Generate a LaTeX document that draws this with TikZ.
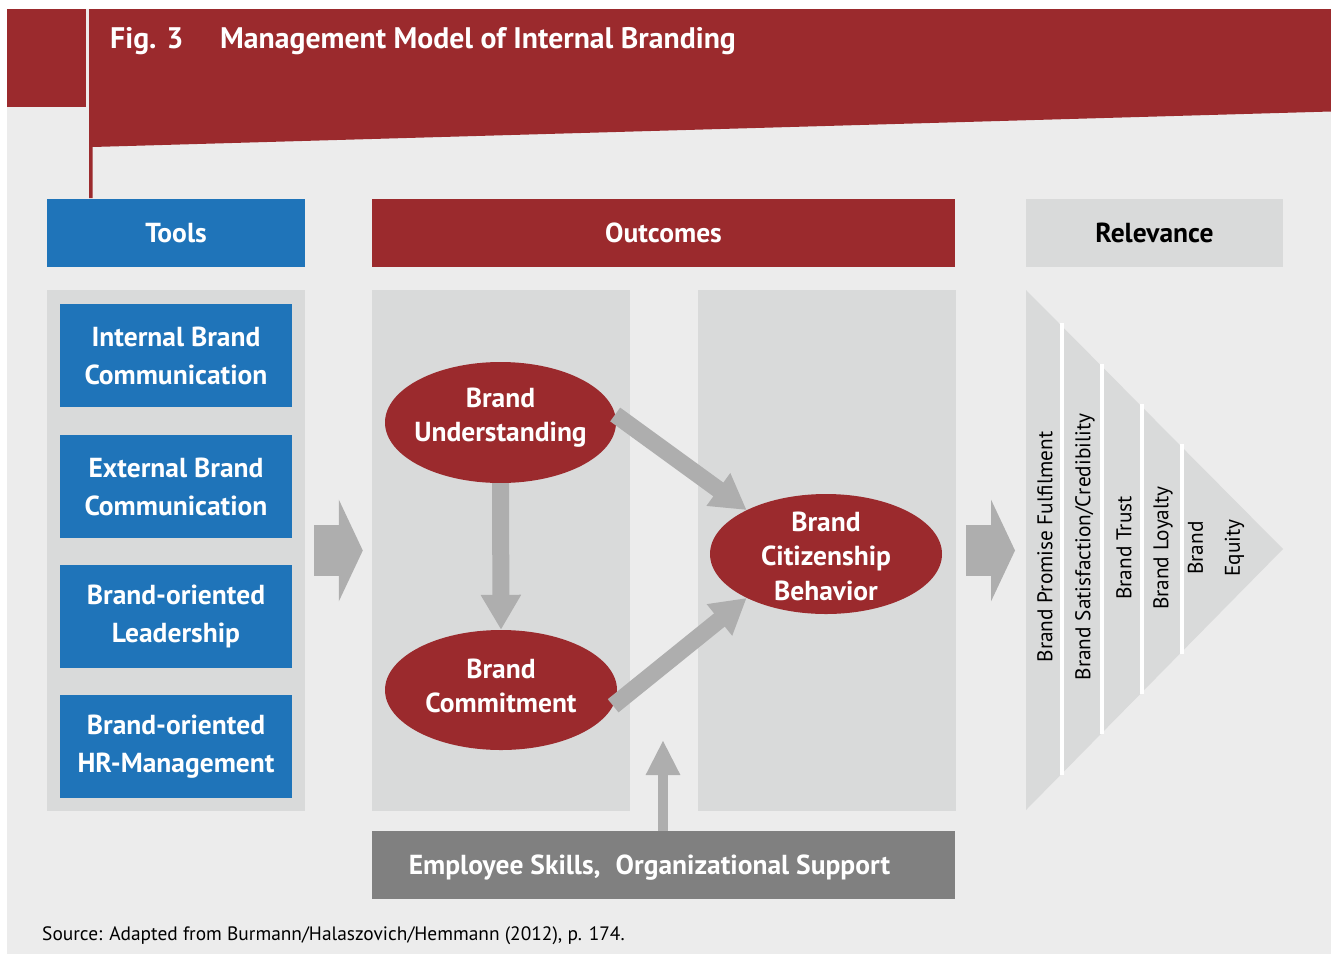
\documentclass[tikz,border=0pt]{standalone}
\usepackage{fontspec}
\setmainfont{PT Sans}
\usetikzlibrary{arrows.meta,shapes.geometric}
\definecolor{brandred}{HTML}{9B2A2D}
\definecolor{toolblue}{HTML}{1F74B9}
\definecolor{panelgray}{HTML}{D9DADA}
\definecolor{bggray}{HTML}{ECECEC}
\definecolor{arrowgray}{HTML}{AEAEAE}
\definecolor{supportgray}{HTML}{808080}

\tikzset{
  boxtext/.style={font=\bfseries\fontsize{27.5}{38}\selectfont, align=center, inner sep=0pt},
  header/.style={boxtext, text depth=0pt, minimum width=#1, minimum height=68pt},
  toolbox/.style={boxtext, fill=toolblue, text=white, minimum width=232pt, minimum height=103pt},
  panel/.style={fill=panelgray, inner sep=0pt, minimum width=258pt, minimum height=521pt},
  outcome/.style={ellipse, fill=brandred, inner sep=0pt},
  outcometext/.style={text=white, inner sep=0pt, font=\bfseries\fontsize{27.5}{34.5}\selectfont, align=center},
  flowarrow/.style={draw=arrowgray, line width=17pt, -{Triangle[width=38pt,length=35pt]}},
  bigarrow/.style={draw=arrowgray, line width=51pt, -{Triangle[width=101pt,length=24pt]}},
  relevtext/.style={rotate=90, font=\fontsize{21.3}{37}\selectfont, align=center, inner sep=0pt},
}

\begin{document}
\begin{tikzpicture}[x=1pt, y=-1pt]
  \useasboundingbox (0,0) rectangle (1331,954);
  \fill[white] (0,0) rectangle (1331,954);
  \fill[bggray] (7,9) rectangle (1331,954);

  % title band
  \fill[brandred] (7,9) rectangle (86,107);
  \fill[brandred] (89,9) -- (1331,9) -- (1331,111.5) -- (92.5,147) -- (92.5,198) -- (89,198) -- cycle;
  \node[anchor=base west, text=white, font=\bfseries\fontsize{29.7}{34}\selectfont, inner sep=0pt]
    (fig) at (110,48) {Fig. 3};
  \node[anchor=base west, text=white, font=\bfseries\fontsize{29.7}{34}\selectfont, inner sep=0pt]
    (title) at (220,48) {Management Model of Internal Branding};

  % column headers
  \node[header=258pt, fill=toolblue, text=white] (tools) at (176,233) {Tools};
  \node[header=583pt, fill=brandred, text=white] (outcomes) at (663.5,233) {Outcomes};
  \node[header=257pt, fill=panelgray, text=black] (relevance) at (1154.5,233) {Relevance};

  % tools column
  \node[panel] (toolpanel) at (176,550.5) {};
  \node[toolbox] (ibc) at (176,355.5) {Internal Brand\\Communication};
  \node[toolbox] (ebc) at (176,486.5) {External Brand\\Communication};
  \node[toolbox] (bol) at (176,616.5) {Brand-oriented\\Leadership};
  \node[toolbox] (bohr) at (176,746.5) {Brand-oriented\\HR-Management};

  % outcomes columns
  \node[panel] (outpanelA) at (501,550.5) {};
  \node[panel] (outpanelB) at (827,550.5) {};

  \node[outcome, minimum width=231pt, minimum height=121pt] (bu) at (500.5,422.5) {};
  \node[outcome, minimum width=232pt, minimum height=120pt] (bc) at (501,690) {};
  \node[outcome, minimum width=232pt, minimum height=120pt] (bcb) at (826,554) {};
  \node[outcometext] (bu-text) at ([yshift=5pt]bu.center) {Brand\\Understanding};
  \node[outcometext] (bc-text) at ([yshift=4pt]bc.center) {Brand\\Commitment};
  \node[outcometext] (bcb-text) at ([yshift=-2pt]bcb.center) {Brand\\Citizenship\\Behavior};

  \draw[flowarrow] (bu.south) -- (bc.north);
  \draw[flowarrow] (bu.4) -- (bcb.151);
  \draw[flowarrow] (bc.-8) -- (bcb.209);

  % support box
  \node[header=583pt, fill=supportgray, text=white] (support) at (663.5,865)
    {Employee Skills,\hspace{0.55em}Organizational Support\hspace*{28pt}};
  \coordinate (supporttip) at (663,740);
  \draw[draw=arrowgray, line width=10pt, -{Triangle[width=32pt,length=35pt]}]
    (support.north -| supporttip) -- (supporttip);

  % big transition arrows
  \draw[bigarrow, shorten <=9pt, shorten >=9pt] (toolpanel.east) -- (outpanelA.west);
  \coordinate (relevleft) at (1026,550.5);
  \draw[bigarrow, shorten <=10pt, shorten >=11pt] (outpanelB.east) -- (relevleft);

  % relevance pyramid
  \coordinate (ptop) at (1026,290);
  \coordinate (papex) at (1283,549);
  \coordinate (pbot) at (1026,810);
  \fill[panelgray] (ptop) -- (papex) -- (pbot) -- cycle;
  \foreach \x in {1062,1102,1142,1182} {
    \draw[white, line width=4pt] (\x,{290+(\x-1026)*1.008-3}) -- (\x,{810-(\x-1026)*1.008+1});
  }
  \node[relevtext] (r1) at (1045,547) {Brand Promise Fulfilment};
  \node[relevtext] (r2) at (1085,547) {Brand Satisfaction/Credibility};
  \node[relevtext] (r3) at (1124,548) {Brand Trust};
  \node[relevtext] (r4) at (1163,548) {Brand Loyalty};
  \node[relevtext] (r5) at (1216,548) {Brand\\Equity};

  % source line
  \node[anchor=base west, font=\fontsize{19.4}{22}\selectfont, inner sep=0pt] (source) at (42,940)
    {Source: Adapted from Burmann/Halaszovich/Hemmann (2012), p. 174.};
\end{tikzpicture}
\end{document}
